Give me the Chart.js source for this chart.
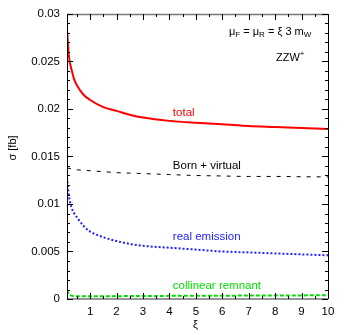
<!DOCTYPE html>
<html>
<head>
<meta charset="utf-8">
<script src="https://cdn.jsdelivr.net/npm/chart.js@4"></script>
<style>
html,body{margin:0;padding:0;background:#fff;}
canvas{display:block;}
</style>
</head>
<body>
<canvas id="c" width="347" height="335"></canvas>
<script>
const xi        = [0.125, 0.2, 0.3, 0.4, 0.5, 0.75, 1, 1.5, 2, 2.5, 3, 4, 5, 6, 7, 8, 9, 10];
const total     = [0.0283, 0.0255, 0.0241, 0.0231, 0.0225, 0.0215, 0.02095, 0.0202, 0.0198, 0.0194, 0.0191, 0.01875, 0.01855, 0.0184, 0.0182, 0.0181, 0.0180, 0.0179];
const bornVirt  = [0.0138, 0.01375, 0.0137, 0.01365, 0.0136, 0.01355, 0.0135, 0.0134, 0.0133, 0.01325, 0.0132, 0.0131, 0.0130, 0.01295, 0.0129, 0.0129, 0.01287, 0.01285];
const realEmis  = [0.0128, 0.0108, 0.0096, 0.0090, 0.0086, 0.0077, 0.0071, 0.0065, 0.0061, 0.0058, 0.0056, 0.0054, 0.0052, 0.0050, 0.0049, 0.0048, 0.0047, 0.0046];
const collRem   = [0.00095, 0.0005, 0.00035, 0.0003, 0.0003, 0.0003, 0.0003, 0.0003, 0.0003, 0.00031, 0.00032, 0.00033, 0.00034, 0.00035, 0.00036, 0.00037, 0.00038, 0.0004];
const xTicks     = [1, 2, 3, 4, 5, 6, 7, 8, 9, 10];
const yTicks     = [0, 0.005, 0.01, 0.015, 0.02, 0.025, 0.03];
const yTickLabels = ["0", "0.005", "0.01", "0.015", "0.02", "0.025", "0.03"];

const FONT = '"Liberation Sans", Arial, sans-serif';
const pts = arr => arr.map((v, i) => ({x: xi[i], y: v}));

const decor = {
  id: 'decor',
  afterDraw(chart) {
    const {ctx, chartArea: a, scales: {x, y}} = chart;
    ctx.save();
    // frame
    ctx.lineWidth = 1.5; ctx.strokeStyle = '#777';
    ctx.beginPath(); ctx.moveTo(a.left, a.top + 0.5); ctx.lineTo(a.right, a.top + 0.5);
    ctx.moveTo(a.left, a.bottom); ctx.lineTo(a.right, a.bottom); ctx.stroke();
    ctx.lineWidth = 1; ctx.strokeStyle = '#000';
    ctx.beginPath(); ctx.moveTo(a.left + 0.5, a.top); ctx.lineTo(a.left + 0.5, a.bottom);
    ctx.moveTo(a.right + 0.5, a.top); ctx.lineTo(a.right + 0.5, a.bottom); ctx.stroke();
    // ticks
    ctx.beginPath();
    for (let v = 0; v <= 0.03 + 1e-9; v += 0.001) {
      const major = Math.abs(v / 0.005 - Math.round(v / 0.005)) < 1e-6;
      const len = major ? 6 : 3;
      const py = Math.round(y.getPixelForValue(v)) + 0.5;
      ctx.moveTo(a.left, py); ctx.lineTo(a.left + len, py);
      ctx.moveTo(a.right, py); ctx.lineTo(a.right - len, py);
    }
    for (let v = 0.5; v <= 10 + 1e-9; v += 0.5) {
      const major = Math.abs(v - Math.round(v)) < 1e-6;
      const len = major ? 6 : 3;
      const px = Math.round(x.getPixelForValue(v)) + 0.5;
      ctx.moveTo(px, a.bottom); ctx.lineTo(px, a.bottom - len);
      ctx.moveTo(px, a.top); ctx.lineTo(px, a.top + len);
    }
    ctx.stroke();

    // curve labels
    ctx.font = '11.5px ' + FONT;
    ctx.textBaseline = 'middle'; ctx.textAlign = 'left';
    const lx = x.getPixelForValue(4.13);
    ctx.fillStyle = '#ff0000'; ctx.fillText('total', lx, 113);
    ctx.fillStyle = '#000000'; ctx.fillText('Born + virtual', lx, 166);
    ctx.fillStyle = '#2020ff'; ctx.fillText('real emission', lx, 237);
    ctx.fillStyle = '#00dd00'; ctx.fillText('collinear remnant', lx, 286);

    // top-right annotation
    ctx.fillStyle = '#000';
    const parts = [['μ', 0], ['F', 1], [' = μ', 0], ['R', 1], [' = ξ 3 m', 0], ['W', 1]];
    let tx = 229; const ty = 32;
    for (const [t, sub] of parts) {
      ctx.font = (sub ? '8px ' : '11px ') + FONT;
      ctx.fillText(t, tx, ty + (sub ? 3 : 0));
      tx += ctx.measureText(t).width;
    }
    ctx.font = '11px ' + FONT;
    ctx.fillText('ZZW', 276, 58);
    const zw = ctx.measureText('ZZW').width;
    ctx.font = '8px ' + FONT;
    ctx.fillText('+', 276 + zw, 54);

    // axis titles
    ctx.font = '11px ' + FONT;
    ctx.textAlign = 'center';
    ctx.fillText('ξ', (a.left + a.right) / 2 - 2, 325);
    ctx.save();
    ctx.translate(13, 148); ctx.rotate(-Math.PI / 2);
    ctx.fillText('σ [fb]', 0, 0);
    ctx.restore();
    ctx.restore();
  }
};

new Chart(document.getElementById('c'), {
  type: 'line',
  data: {
    datasets: [
      {label: 'total', data: pts(total), borderColor: '#ff0000', borderWidth: 2, pointRadius: 0, cubicInterpolationMode: 'monotone', fill: false},
      {label: 'Born + virtual', data: pts(bornVirt), borderColor: '#000000', borderWidth: 1, borderDash: [4, 6], pointRadius: 0, cubicInterpolationMode: 'monotone', fill: false},
      {label: 'real emission', data: pts(realEmis), borderColor: '#2020ff', borderWidth: 2, borderDash: [2, 2], pointRadius: 0, cubicInterpolationMode: 'monotone', fill: false},
      {label: 'collinear remnant', data: pts(collRem), borderColor: '#00dd00', borderWidth: 2, borderDash: [4, 2], pointRadius: 0, cubicInterpolationMode: 'monotone', fill: false}
    ]
  },
  options: {
    responsive: false,
    animation: false,
    layout: {padding: {left: 0, top: 14, right: 19, bottom: 0}},
    plugins: {legend: {display: false}, tooltip: {enabled: false}},
    scales: {
      x: {
        type: 'linear', min: 0.125, max: 10,
        afterBuildTicks: s => { s.ticks = xTicks.map(v => ({value: v})); },
        afterFit: s => { s.height = 36; },
        grid: {display: false, drawTicks: false},
        border: {display: false},
        ticks: {padding: 6, color: '#000', font: {family: FONT, size: 11.5}, maxRotation: 0, autoSkip: false,
                callback: v => String(v)}
      },
      y: {
        type: 'linear', min: 0, max: 0.03,
        afterBuildTicks: s => { s.ticks = yTicks.map(v => ({value: v})); },
        afterFit: s => { s.width = 67; },
        grid: {display: false, drawTicks: false},
        border: {display: false},
        ticks: {padding: 7, color: '#000', font: {family: FONT, size: 11.5}, autoSkip: false,
                callback: (v, i) => yTickLabels[i]}
      }
    }
  },
  plugins: [decor]
});
</script>
</body>
</html>
